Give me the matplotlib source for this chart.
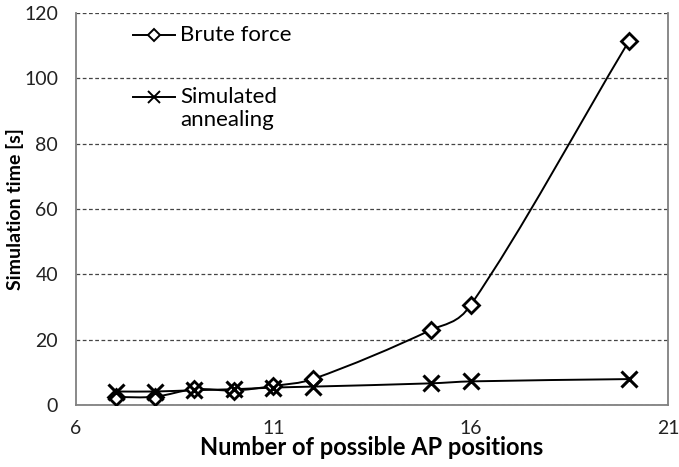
import numpy as np
import matplotlib.pyplot as plt
from matplotlib.path import Path
import matplotlib.patches as patches

plt.rcParams['font.family'] = ['Lato', 'DejaVu Sans']

positions = [7, 8, 9, 10, 11, 12, 15, 16, 20]
brute_force = [2.4, 2.5, 4.8, 4.4, 5.8, 7.9, 23.0, 30.6, 111.3]
sim_annealing = [4.1, 4.1, 4.5, 4.8, 5.3, 5.6, 6.6, 7.2, 7.9]
x_ticks = [6, 11, 16, 21]
y_ticks = [0, 20, 40, 60, 80, 100, 120]
labels = ['Brute force', 'Simulated\nannealing']


def smooth_path(xs, ys):
    # smoothed line like the spreadsheet one: cubic Hermite in x, drawn as beziers
    xs = np.asarray(xs, float)
    ys = np.asarray(ys, float)
    n = len(xs)
    slopes = np.empty(n)
    for i in range(n):
        a, b = max(i - 1, 0), min(i + 1, n - 1)
        slopes[i] = (ys[b] - ys[a]) / (xs[b] - xs[a])
    verts = [(xs[0], ys[0])]
    codes = [Path.MOVETO]
    for i in range(n - 1):
        h = xs[i + 1] - xs[i]
        verts += [(xs[i] + h / 3, ys[i] + slopes[i] * h / 3),
                  (xs[i + 1] - h / 3, ys[i + 1] - slopes[i + 1] * h / 3),
                  (xs[i + 1], ys[i + 1])]
        codes += [Path.CURVE4] * 3
    return Path(verts, codes)


fig, ax = plt.subplots(figsize=(6.79, 4.67), dpi=100)
fig.subplots_adjust(left=0.112, right=0.984, top=0.972, bottom=0.133)

for ys in (brute_force, sim_annealing):
    ax.add_patch(patches.PathPatch(smooth_path(positions, ys), facecolor='none',
                                   edgecolor='black', linewidth=1.4, zorder=3))

ax.plot(positions, brute_force, linestyle='none', marker='D', markersize=8,
        markerfacecolor='white', markeredgecolor='black', markeredgewidth=2, zorder=4)
ax.plot(positions, sim_annealing, linestyle='none', marker='x', markersize=11,
        markeredgecolor='black', markeredgewidth=2.2, zorder=5)

# legend drawn by hand so the handle sits on the first text line
tr = ax.transAxes
ax.plot([0.096, 0.167], [0.944, 0.944], transform=tr, color='black', linewidth=1.4)
ax.plot([0.1315], [0.944], transform=tr, marker='D', markersize=6,
        markerfacecolor='white', markeredgecolor='black', markeredgewidth=1.4)
ax.plot([0.096, 0.167], [0.786, 0.786], transform=tr, color='black', linewidth=1.4)
ax.plot([0.1315], [0.786], transform=tr, marker='x', markersize=9,
        markeredgecolor='black', markeredgewidth=1.4)
ax.text(0.176, 0.944, labels[0], transform=tr, fontsize=16, va='center', ha='left')
ax.text(0.176, 0.786, labels[1].split('\n')[0], transform=tr, fontsize=16,
        va='center', ha='left')
ax.text(0.176, 0.728, labels[1].split('\n')[1], transform=tr, fontsize=16,
        va='center', ha='left')

ax.set_xlim(6, 21)
ax.set_ylim(0, 120)
ax.set_xticks(x_ticks)
ax.set_yticks(y_ticks)
ax.tick_params(length=0, labelsize=14, colors='#222222')
ax.tick_params(axis='x', pad=11)
ax.tick_params(axis='y', pad=13)
ax.yaxis.grid(True, linestyle=(0, (3, 2)), color='#444444', linewidth=0.9)
ax.set_axisbelow(True)
ax.spines['top'].set_visible(False)
for s in ('left', 'right', 'bottom'):
    ax.spines[s].set_color('#808080')
    ax.spines[s].set_linewidth(1.3)

ax.set_xlabel('Number of possible AP positions', fontsize=17, fontweight='bold', labelpad=-1)
ax.set_ylabel('Simulation time [s]', fontsize=14, fontweight='bold', labelpad=0)

fig.savefig('out.png', dpi=100)
